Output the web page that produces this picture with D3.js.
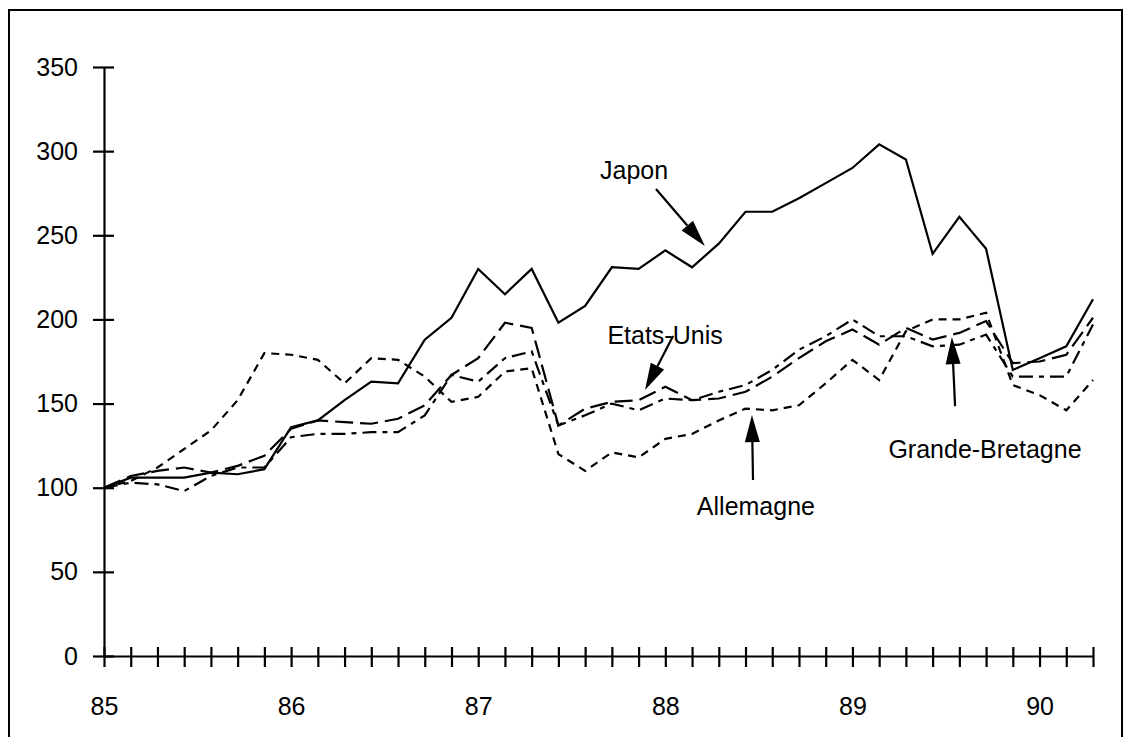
<!DOCTYPE html>
<html><head><meta charset="utf-8">
<script src="https://cdn.jsdelivr.net/npm/d3@7"></script>
<style>body{margin:0;background:#fff}</style>
</head><body>
<svg id="chart" width="1131" height="737"></svg>
<script>
// ---- data ----
const tickLabels = ["85","","","","","","","86","","","","","","","87","","","","","","","88","","","","","","","89","","","","","","","90","",""];
const yTicks = [0, 50, 100, 150, 200, 250, 300, 350];
const japon      = [100,106,106,106,109,108,111,136,140,152,163,162,188,201,230,215,230,198,208,231,230,241,231,245,264,264,272,281,290,304,295,239,261,242,170,177,184,212];
const etatsUnis  = [100,107,110,112,109,113,119,135,140,139,138,141,149,167,177,198,195,137,147,151,152,160,152,153,157,166,177,187,194,185,195,188,192,199,174,175,179,201];
const allemagne  = [100,104,112,123,134,152,180,179,176,162,177,176,166,151,154,169,171,120,110,121,118,129,132,140,147,146,149,162,176,164,193,200,200,204,161,155,146,164];
const grandeBretagne = [100,103,102,98,107,112,112,130,132,132,133,133,143,167,163,177,181,137,143,150,146,153,152,157,161,170,182,190,200,190,190,184,185,191,166,166,166,197];

const seriesNames = ["Japon","Etats-Unis","Allemagne","Grande-Bretagne"];
// annotation anchors in data space: [periodIndex, value]
const labelAt  = [[19.83, 283.2], [20.99, 185.4], [24.39, 83.8], [32.96, 117.6]];
const arrowFrom = [[20.65, 277.5], [21.29, 190.1], [24.28, 104.6], [31.84, 148.5]];
const arrowTo   = [[22.48, 243.6], [20.24, 158.0], [24.24, 143.2], [31.72, 189.5]];

// ---- drawing ----
const svg = d3.select("#chart");
const FONT = "'Liberation Sans', Arial, Helvetica, sans-serif";
svg.append("rect").attr("width",1131).attr("height",737).attr("fill","#fff");
svg.append("rect").attr("x",9).attr("y",10).attr("width",1113).attr("height",780)
  .attr("fill","none").attr("stroke","#000").attr("stroke-width",2);

const x = d3.scaleLinear().domain([0, tickLabels.length - 1]).range([104, 1093]);
const y = d3.scaleLinear().domain([0, 350]).range([656, 67]);

const styles = [null, "18,7", "8,6", "14,6,5,6"];
const data = [japon, etatsUnis, allemagne, grandeBretagne];

// axes
const yAxis = svg.append("g").attr("transform","translate(104,0)")
  .call(d3.axisLeft(y).tickValues(yTicks).tickSizeInner(11).tickSizeOuter(0).tickPadding(15));
yAxis.selectAll(".tick line").attr("x1",10).attr("x2",-11).attr("stroke-width",2.2);
yAxis.select(".domain").attr("stroke-width",2.2);
yAxis.selectAll("text").attr("font-family",FONT).attr("font-size",25).attr("fill","#000");

const xAxis = svg.append("g").attr("transform","translate(0,656)")
  .call(d3.axisBottom(x).tickValues(d3.range(tickLabels.length)).tickFormat(i => tickLabels[i])
    .tickSizeInner(11).tickSizeOuter(0).tickPadding(30));
xAxis.selectAll(".tick line").attr("y1",-9).attr("y2",11).attr("stroke-width",2.2);
xAxis.select(".domain").attr("stroke-width",2.2);
xAxis.selectAll("text").attr("font-family",FONT).attr("font-size",25).attr("fill","#000");

// lines
const line = d3.line().x((d,i) => x(i)).y(d => y(d));
data.forEach((vals, k) => {
  svg.append("path").datum(vals).attr("d", line)
    .attr("fill","none").attr("stroke","#000").attr("stroke-width",2.2)
    .attr("stroke-linejoin","miter")
    .attr("stroke-dasharray", styles[k]);
});

// annotations
seriesNames.forEach((name, k) => {
  svg.append("text").attr("x", x(labelAt[k][0])).attr("y", y(labelAt[k][1]))
    .attr("text-anchor","middle").attr("font-family",FONT).attr("font-size",25)
    .attr("fill","#000").text(name);
  const x1 = x(arrowFrom[k][0]), y1 = y(arrowFrom[k][1]);
  const x2 = x(arrowTo[k][0]), y2 = y(arrowTo[k][1]);
  const dx = x2 - x1, dy = y2 - y1, L = Math.hypot(dx, dy);
  const ux = dx / L, uy = dy / L, hl = 27, hw = 7.5;
  const bx = x2 - ux * hl, by = y2 - uy * hl;
  svg.append("line").attr("x1",x1).attr("y1",y1).attr("x2",bx).attr("y2",by)
    .attr("stroke","#000").attr("stroke-width",2.2);
  svg.append("path")
    .attr("d", `M${x2},${y2}L${bx - uy*hw},${by + ux*hw}L${bx + uy*hw},${by - ux*hw}Z`)
    .attr("fill","#000");
});
</script>
</body></html>
